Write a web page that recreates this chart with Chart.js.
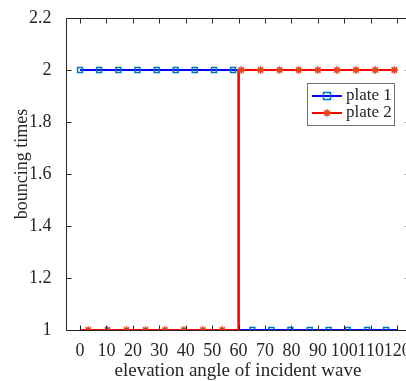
<!DOCTYPE html>
<html lang="en">
<head>
    <meta charset="UTF-8">
    <title>bouncing times</title>
    <script src="https://cdn.jsdelivr.net/npm/chart.js@4.4.0/dist/chart.umd.min.js"></script>
    <style>
        html, body { margin: 0; padding: 0; background: #fff; overflow: hidden; }
        .wrap { width: 406px; height: 381px; overflow: hidden; }
    </style>
</head>
<body>
    <div class="wrap">
        <canvas id="bounceChart" width="416" height="381"></canvas>
    </div>

    <script>
        // values
        const seriesNames = ['plate 1', 'plate 2'];

        // step lines (angle, bouncing times)
        const plate1LineX = [0, 60, 60, 120];
        const plate1LineY = [2, 2, 1, 1];
        const plate2LineX = [0, 60, 60, 120];
        const plate2LineY = [1, 1, 2, 2];

        // marker positions
        const plate1MarkerX = [0, 7.2, 14.5, 21.7, 29, 36.2, 43.4, 50.7, 57.9, 65.2, 72.4, 79.6, 86.9, 94.1, 101.3, 108.6, 115.8];
        const plate1MarkerY = [2, 2, 2, 2, 2, 2, 2, 2, 2, 1, 1, 1, 1, 1, 1, 1, 1];
        const plate2MarkerX = [3.1, 10.4, 17.6, 24.8, 32.1, 39.3, 46.5, 53.8, 61, 68.3, 75.5, 82.7, 90, 97.2, 104.4, 111.7, 118.9];
        const plate2MarkerY = [1, 1, 1, 1, 1, 1, 1, 1, 2, 2, 2, 2, 2, 2, 2, 2, 2];

        const xTicks = [0, 10, 20, 30, 40, 50, 60, 70, 80, 90, 100, 110, 120];
        const yTicks = [1, 1.2, 1.4, 1.6, 1.8, 2, 2.2];
        const yTickLabels = ['1', '1.2', '1.4', '1.6', '1.8', '2', '2.2'];
        const yTitle = 'bouncing times';

        const FONT = "'Liberation Serif', 'Times New Roman', serif";
        const INK = '#262626';
        const BLUE_LINE = '#0000ff';
        const BLUE_MARK = '#0072bd';
        const RED_LINE = '#ff0000';
        const RED_MARK = '#e8451e';

        function pts(xs, ys) {
            return xs.map((x, i) => ({ x: x, y: ys[i] }));
        }

        // box + inward ticks, matlab style
        const axesBox = {
            id: 'axesBox',
            afterDraw(chart) {
                const { ctx, chartArea: a, scales } = chart;
                ctx.save();
                ctx.strokeStyle = INK;
                ctx.lineWidth = 1;
                const L = Math.round(a.left) + 0.5, R = Math.round(a.right) + 0.5;
                const T = Math.round(a.top) + 0.5, B = Math.round(a.bottom) + 0.5;
                ctx.beginPath();
                ctx.moveTo(L, T); ctx.lineTo(R, T); ctx.lineTo(R, B); ctx.lineTo(L, B); ctx.closePath();
                const len = 5;
                xTicks.forEach(v => {
                    const px = Math.round(scales.x.getPixelForValue(v)) + 0.5;
                    ctx.moveTo(px, B); ctx.lineTo(px, B - len);
                    ctx.moveTo(px, T); ctx.lineTo(px, T + len);
                });
                yTicks.forEach(v => {
                    const py = Math.round(scales.y.getPixelForValue(v)) + 0.5;
                    ctx.moveTo(L, py); ctx.lineTo(L + len, py);
                    ctx.moveTo(R, py); ctx.lineTo(R - len, py);
                });
                ctx.stroke();

                // y axis title, sits a little above the axes centre in the original
                ctx.translate(22, 164);
                ctx.rotate(-Math.PI / 2);
                ctx.fillStyle = INK;
                ctx.font = '18px ' + FONT;
                ctx.textAlign = 'center';
                ctx.textBaseline = 'middle';
                ctx.fillText(yTitle, 0, 0);
                ctx.restore();
            }
        };

        function drawSquare(ctx, x, y) {
            ctx.strokeStyle = BLUE_MARK;
            ctx.lineWidth = 1.5;
            ctx.strokeRect(x - 3.5, y - 3.5, 7, 7);
        }
        function drawStar(ctx, x, y) {
            ctx.strokeStyle = RED_MARK;
            ctx.lineWidth = 1.6;
            const r = 3.8;
            ctx.beginPath();
            for (let k = 0; k < 4; k++) {
                const ang = k * Math.PI / 4;
                ctx.moveTo(x - r * Math.cos(ang), y - r * Math.sin(ang));
                ctx.lineTo(x + r * Math.cos(ang), y + r * Math.sin(ang));
            }
            ctx.stroke();
        }

        // legend box inside the axes
        const insideLegend = {
            id: 'insideLegend',
            afterDraw(chart) {
                const ctx = chart.ctx;
                ctx.save();
                const bx = 307.5, by = 83.5, bw = 87, bh = 42;
                ctx.fillStyle = '#fff';
                ctx.fillRect(bx, by, bw, bh);
                ctx.strokeStyle = '#707070';
                ctx.lineWidth = 1;
                ctx.strokeRect(bx, by, bw, bh);
                const rows = [
                    { y: 96, line: BLUE_LINE, mark: drawSquare },
                    { y: 113, line: RED_LINE, mark: drawStar }
                ];
                rows.forEach((r, i) => {
                    ctx.strokeStyle = r.line;
                    ctx.lineWidth = 2;
                    ctx.beginPath();
                    ctx.moveTo(312, r.y); ctx.lineTo(342, r.y);
                    ctx.stroke();
                    r.mark(ctx, 327, r.y);
                    ctx.fillStyle = INK;
                    ctx.font = '17px ' + FONT;
                    ctx.textBaseline = 'middle';
                    ctx.textAlign = 'left';
                    ctx.fillText(seriesNames[i], 346, r.y);
                });
                ctx.restore();
            }
        };

        const ctx = document.getElementById('bounceChart').getContext('2d');
        const chart = new Chart(ctx, {
            type: 'scatter',
            data: {
                datasets: [
                    {
                        label: seriesNames[1] + ' line',
                        data: pts(plate2LineX, plate2LineY),
                        showLine: true,
                        borderColor: RED_LINE,
                        borderWidth: 2,
                        pointRadius: 0,
                        order: 1
                    },
                    {
                        label: seriesNames[1],
                        data: pts(plate2MarkerX, plate2MarkerY),
                        showLine: false,
                        pointStyle: 'star',
                        pointRadius: 3.8,
                        borderColor: RED_MARK,
                        backgroundColor: RED_MARK,
                        pointBorderWidth: 1.6,
                        order: 0
                    },
                    {
                        label: seriesNames[0] + ' line',
                        data: pts(plate1LineX, plate1LineY),
                        showLine: true,
                        borderColor: BLUE_LINE,
                        borderWidth: 2,
                        pointRadius: 0,
                        order: 3
                    },
                    {
                        label: seriesNames[0],
                        data: pts(plate1MarkerX, plate1MarkerY),
                        showLine: false,
                        pointStyle: 'rect',
                        pointRadius: 3.5,
                        borderColor: BLUE_MARK,
                        backgroundColor: 'rgba(0,0,0,0)',
                        pointBorderWidth: 1.5,
                        order: 2
                    }
                ]
            },
            options: {
                responsive: false,
                animation: false,
                devicePixelRatio: 1,
                layout: { padding: { top: 18, right: 4, left: 0, bottom: 0 } },
                plugins: {
                    legend: { display: false },
                    tooltip: { enabled: false }
                },
                scales: {
                    x: {
                        type: 'linear',
                        min: -5.5,
                        max: 125,
                        grid: { display: false },
                        border: { display: false },
                        afterBuildTicks: s => { s.ticks = xTicks.map(v => ({ value: v })); },
                        afterFit: s => { s.height = 51; s.paddingLeft = 0; s.paddingRight = 0; },
                        ticks: {
                            autoSkip: false,
                            maxRotation: 0,
                            padding: 2,
                            color: INK,
                            font: { family: FONT, size: 18 }
                        },
                        title: {
                            display: true,
                            text: 'elevation angle of incident wave',
                            color: INK,
                            font: { family: FONT, size: 19, lineHeight: 1 },
                            padding: 0
                        }
                    },
                    y: {
                        type: 'linear',
                        min: 1,
                        max: 2.2,
                        grid: { display: false },
                        border: { display: false },
                        afterBuildTicks: s => { s.ticks = yTicks.map(v => ({ value: v })); },
                        afterFit: s => { s.width = 65.5; s.paddingTop = 0; s.paddingBottom = 0; },
                        ticks: {
                            padding: 6,
                            color: INK,
                            font: { family: FONT, size: 18 },
                            callback: (v, i) => yTickLabels[i]
                        },
                        title: { display: false }
                    }
                }
            },
            plugins: [axesBox, insideLegend]
        });
    </script>
</body>
</html>
